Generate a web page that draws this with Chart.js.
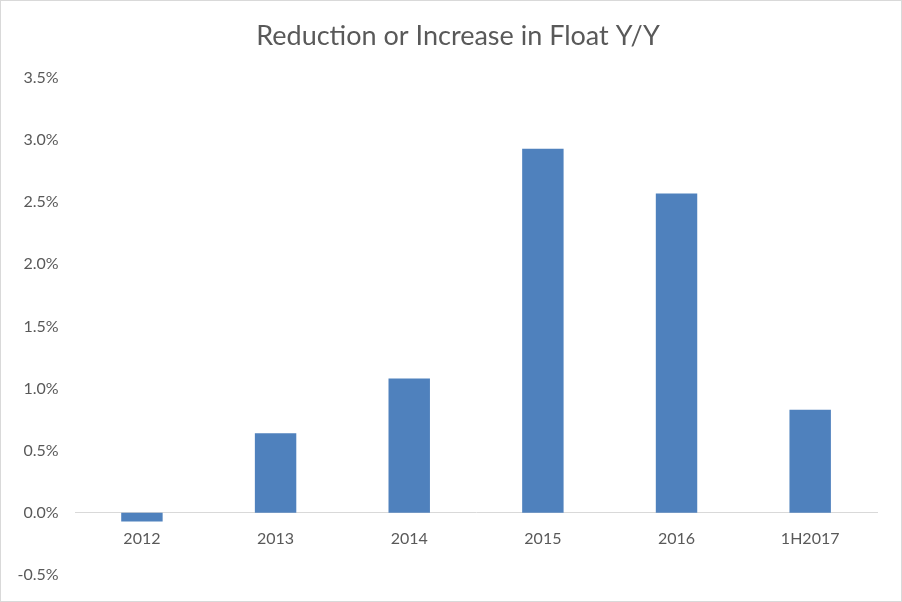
<!DOCTYPE html>
<html>
<head>
<meta charset="utf-8">
<script src="https://cdn.jsdelivr.net/npm/chart.js@4/dist/chart.umd.min.js"></script>
<style>
  html, body { margin: 0; padding: 0; background: #fff; }
  #wrap { width: 900px; height: 600px; border: 1px solid #d9d9d9; position: relative; }
</style>
</head>
<body>
<div id="wrap"><canvas id="c" width="900" height="600"></canvas></div>
<script>
const categories = ['2012', '2013', '2014', '2015', '2016', '1H2017'];
const floatChange = [-0.07, 0.64, 1.08, 2.93, 2.57, 0.83];
const yTicks = { min: -0.5, max: 3.5, step: 0.5 };
const titleText = 'Reduction or Increase in Float Y/Y';

const FONT = 'Lato, "Open Sans", "Liberation Sans", sans-serif';
const TEXT = '#595959';

const titlePlugin = {
  id: 'offsetTitle',
  afterDraw(chart) {
    const ctx = chart.ctx;
    ctx.save();
    ctx.font = '27px ' + FONT;
    ctx.fillStyle = TEXT;
    ctx.textAlign = 'center';
    ctx.textBaseline = 'middle';
    ctx.fillText(titleText, 457, 35);
    ctx.restore();
  }
};

new Chart(document.getElementById('c'), {
  type: 'bar',
  data: {
    labels: categories,
    datasets: [{
      data: floatChange,
      backgroundColor: '#4f81bd',
      borderWidth: 0,
      barPercentage: 0.62,
      categoryPercentage: 0.5
    }]
  },
  options: {
    responsive: false,
    animation: false,
    layout: { padding: { left: 0, right: 24, top: 77, bottom: 19 } },
    plugins: {
      legend: { display: false },
      tooltip: { enabled: false },
      title: { display: false }
    },
    scales: {
      x: {
        position: { y: 0 },
        grid: { display: false, drawTicks: false },
        border: { display: true, color: '#d9d9d9', width: 1 },
        ticks: { color: TEXT, font: { family: FONT, size: 16 }, padding: 16 },
        afterFit: axis => { axis.height = 0; }
      },
      y: {
        min: yTicks.min,
        max: yTicks.max,
        grid: { display: false, drawTicks: false },
        border: { display: false },
        ticks: {
          stepSize: yTicks.step,
          color: TEXT,
          font: { family: FONT, size: 16 },
          padding: 16.5,
          callback: v => Number(v).toFixed(1) + '%'
        }
      }
    }
  },
  plugins: [titlePlugin]
});
</script>
</body>
</html>
